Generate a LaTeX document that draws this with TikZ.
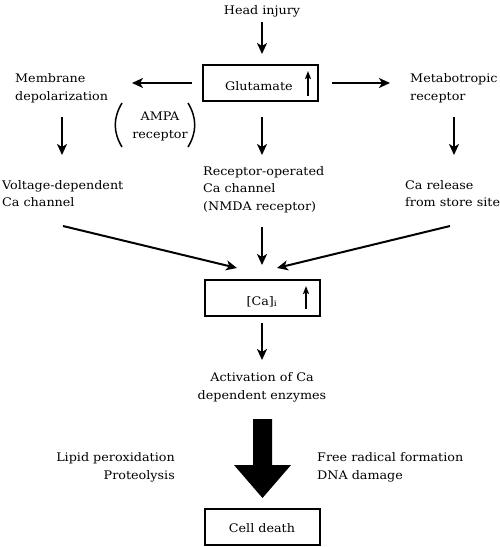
\documentclass[tikz,border=0pt]{standalone}
\usepackage{fontspec}
\setmainfont[FakeStretch=1.08]{DejaVu Serif}
\usetikzlibrary{arrows.meta}
\begin{document}
\begin{tikzpicture}[x=1pt,y=-1pt,
  txt/.style={inner sep=0pt,font=\fontsize{11.8}{17.6}\selectfont},
  ltxt/.style={txt,align=left,anchor=base west},
  rtxt/.style={txt,align=right,anchor=base east},
  ctxt/.style={txt,align=center,anchor=base},
  boxnode/.style={draw,line width=2pt,minimum width=115pt,minimum height=36pt,inner sep=0pt},
  conn/.style={line width=2pt,-{Stealth[length=11pt,width=10pt,inset=3pt]}},
  uparr/.style={line width=2pt,-{Stealth[length=8pt,width=6pt,inset=1.5pt]}}
]
\useasboundingbox (0,0) rectangle (500,547);
% boxes
\node[boxnode] (glubox) at (260.5,83) {};
\node[boxnode] (cabox) at (262,297.5) {};
\node[boxnode] (deathbox) at (262,526.5) {};
% texts
\node[ctxt] (head) at (262,14) {Head injury};
\node[ltxt] (glu) at (225,90) {Glutamate};
\node[ltxt] (memb) at (15,100) {Membrane\\depolarization};
\node[ltxt] (metab) at (410,100) {Metabotropic\\receptor};
\node[ctxt] (ampa) at (160,138) {AMPA\\receptor};
\node[ltxt] (rocc) at (203,210.5) {Receptor-operated\\Ca channel\\(NMDA receptor)};
\node[ltxt] (vdcc) at (2,206.7) {Voltage-dependent\\Ca channel};
\node[ltxt] (carel) at (405,206.7) {Ca release\\from store site};
\node[ctxt] (ca) at (262,305) {[Ca]\textsubscript{i}};
\node[ctxt] (act) at (262,399) {Activation of Ca\\dependent enzymes};
\node[rtxt] (lipid) at (175,479.3) {Lipid peroxidation\\Proteolysis};
\node[ltxt] (free) at (317,479.3) {Free radical formation\\DNA damage};
\node[ctxt] (death) at (262,532) {Cell death};
% parentheses
\draw[line width=1.5pt] (122,103) .. controls (113,118) and (113,132) .. (122,147);
\draw[line width=1.5pt] (188,103) .. controls (197,118) and (197,132) .. (188,147);
% small up arrows
\coordinate (gua) at (308,96);
\coordinate (gub) at (308,71);
\draw[uparr] (gua) -- (gub);
\coordinate (cua) at (306,309);
\coordinate (cub) at (306,286);
\draw[uparr] (cua) -- (cub);
% connectors
\coordinate (a1s) at (262,22);  \coordinate (a1e) at (262,54);
\coordinate (a2s) at (192,83);  \coordinate (a2e) at (132,83);
\coordinate (a3s) at (332,83);  \coordinate (a3e) at (390,83);
\coordinate (a4s) at (62,117);  \coordinate (a4e) at (62,155);
\coordinate (a5s) at (262,117); \coordinate (a5e) at (262,155);
\coordinate (a6s) at (454,117); \coordinate (a6e) at (454,155);
\coordinate (a7s) at (63,226);  \coordinate (a7e) at (237,268);
\coordinate (a8s) at (262,227); \coordinate (a8e) at (262,265);
\coordinate (a9s) at (450,226); \coordinate (a9e) at (277,268);
\coordinate (a10s) at (262,323); \coordinate (a10e) at (262,360);
\foreach \i in {1,...,10} {\draw[conn] (a\i s) -- (a\i e);}
% big arrow
\fill (253,419) -- (272,419) -- (272,465) -- (291,465) -- (262.5,498) -- (234,465) -- (253,465) -- cycle;
\end{tikzpicture}
\end{document}
